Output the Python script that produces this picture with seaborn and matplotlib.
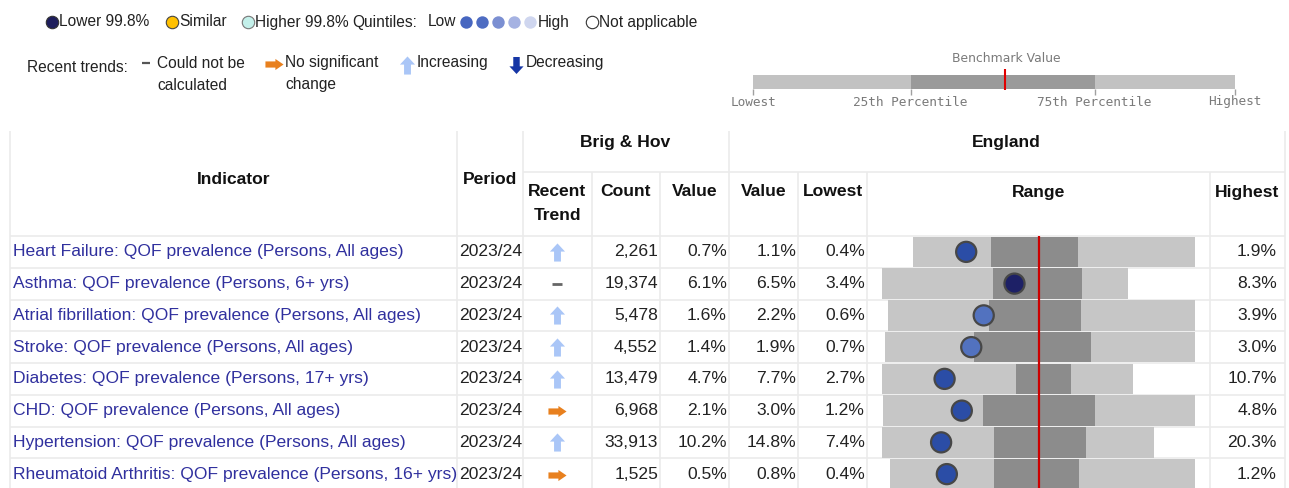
import numpy as np
import pandas as pd
import matplotlib
matplotlib.use("Agg")
import matplotlib.pyplot as plt
from matplotlib.path import Path
from matplotlib.patches import Rectangle
import seaborn as sns

# ---------------- data ----------------
indicators = [
    "Heart Failure: QOF prevalence (Persons, All ages)",
    "Asthma: QOF prevalence (Persons, 6+ yrs)",
    "Atrial fibrillation: QOF prevalence (Persons, All ages)",
    "Stroke: QOF prevalence (Persons, All ages)",
    "Diabetes: QOF prevalence (Persons, 17+ yrs)",
    "CHD: QOF prevalence (Persons, All ages)",
    "Hypertension: QOF prevalence (Persons, All ages)",
    "Rheumatoid Arthritis: QOF prevalence (Persons, 16+ yrs)",
]
periods = ["2023/24", "2023/24", "2023/24", "2023/24", "2023/24", "2023/24", "2023/24", "2023/24"]
trends = ["up", "none", "up", "up", "up", "flat", "up", "flat"]
counts = [2261, 19374, 5478, 4552, 13479, 6968, 33913, 1525]
area_values = [0.72, 6.06, 1.65, 1.36, 4.69, 2.11, 10.18, 0.545]
england_values = [1.10, 6.54, 2.24, 1.86, 7.70, 3.00, 14.80, 0.78]
lowest = [0.44, 3.42, 0.62, 0.72, 2.70, 1.20, 7.40, 0.40]
pct25 = [0.85, 5.63, 1.71, 1.38, 6.97, 2.36, 12.71, 0.667]
pct75 = [1.31, 7.41, 2.70, 2.25, 8.75, 3.65, 17.04, 0.883]
highest = [1.92, 8.32, 3.92, 3.02, 10.74, 4.81, 20.30, 1.18]
comparison = ["Quintile 1", "Lower 99.8%", "Quintile 2", "Quintile 2",
              "Quintile 1", "Quintile 1", "Quintile 1", "Quintile 1"]

# ---------------- style ----------------
W, H = 1289, 488
sns.set_theme(style="white")
plt.rcParams["font.family"] = ["Liberation Sans", "DejaVu Sans"]

FS = 12.6           # table text size (pt)
FS_LEG = 11.2       # legend text size
TXT = "#222222"
IND_COL = "#30309e"
GRID = "#ebebeb"
palette = {"Quintile 1": "#2b4da6", "Quintile 2": "#5272bf", "Lower 99.8%": "#1d2066"}

df = pd.DataFrame({
    "row": np.arange(len(indicators)), "indicator": indicators, "period": periods,
    "trend": trends, "count": counts, "value": area_values, "eng": england_values,
    "lo": lowest, "q25": pct25, "q75": pct75, "hi": highest, "comparison": comparison,
})
half = np.maximum(df.eng - df.lo, df.hi - df.eng)
for c in ["lo", "q25", "q75", "hi", "value"]:
    df[c + "_n"] = (df[c] - df.eng) / half

fig = plt.figure(figsize=(W / 100, H / 100), dpi=100)
ax = fig.add_axes([0, 0, 1, 1])
ax.set_xlim(0, W)
ax.set_ylim(H, 0)
ax.axis("off")

# layout (pixels)
TOP, MID, BODY = 131, 172, 236
ROW_H = 31.75
cols = dict(left=10, period=457, trend=522.7, count=591.7, value=660, eng=728.5,
            low=798, rng=867, high=1210, right=1285)

def row_y(i):
    return BODY + ROW_H * (i + 0.5)

# grid lines
for key in ["left", "period", "trend", "eng", "right"]:
    ax.vlines(cols[key], TOP, H, color=GRID, lw=1.2, zorder=0)
for key in ["count", "value", "low", "rng", "high"]:
    ax.vlines(cols[key], MID, H, color=GRID, lw=1.2, zorder=0)
ax.hlines(MID, cols["trend"], cols["right"], color=GRID, lw=1.2, zorder=0)
for k in range(len(indicators) + 1):
    ax.hlines(BODY + ROW_H * k, cols["left"], cols["right"], color=GRID, lw=1.2, zorder=0)

# headers
hkw = dict(fontsize=FS, fontweight="bold", color="#111111", ha="center", va="center")
ax.text((cols["left"] + cols["period"]) / 2, 180, "Indicator", **hkw)
ax.text((cols["period"] + cols["trend"]) / 2, 180, "Period", **hkw)
ax.text((cols["trend"] + cols["eng"]) / 2, 142, "Brig & Hov", **hkw)
ax.text((cols["eng"] + cols["right"]) / 2, 142, "England", **hkw)
ax.text((cols["trend"] + cols["count"]) / 2, 192, "Recent", **hkw)
ax.text((cols["trend"] + cols["count"]) / 2, 215, "Trend", **hkw)
ax.text((cols["count"] + cols["value"]) / 2, 192, "Count", **hkw)
ax.text((cols["value"] + cols["eng"]) / 2, 192, "Value", **hkw)
ax.text((cols["eng"] + cols["low"]) / 2, 192, "Value", **hkw)
ax.text((cols["low"] + cols["rng"]) / 2, 192, "Lowest", **hkw)
ax.text((cols["rng"] + cols["high"]) / 2, 192, "Range", **hkw)
ax.text((cols["high"] + cols["right"]) / 2, 192, "Highest", **hkw)

# arrow marker paths
up_arrow = Path([(-0.19, -0.5), (0.19, -0.5), (0.19, 0.05), (0.417, 0.05), (0, 0.5),
                 (-0.417, 0.05), (-0.19, 0.05), (-0.19, -0.5)])
down_arrow = Path([(x, -y) for x, y in up_arrow.vertices])
right_arrow = Path([(-0.5, -0.17), (-0.5, 0.17), (0.05, 0.17), (0.05, 0.306), (0.5, 0),
                    (0.05, -0.306), (0.05, -0.17), (-0.5, -0.17)])

tr_x = (cols["trend"] + cols["count"]) / 2
for _, r in df.iterrows():
    y = row_y(r.row)
    ax.text(13, y, r.indicator, fontsize=FS, color=IND_COL, ha="left", va="center")
    ax.text(459, y, r.period, fontsize=FS, color=TXT, ha="left", va="center")
    ax.text(658, y, f"{r['count']:,}", fontsize=FS, color=TXT, ha="right", va="center")
    ax.text(727, y, f"{r.value:.1f}%", fontsize=FS, color=TXT, ha="right", va="center")
    ax.text(796, y, f"{r.eng:.1f}%", fontsize=FS, color=TXT, ha="right", va="center")
    ax.text(865, y, f"{r.lo:.1f}%", fontsize=FS, color=TXT, ha="right", va="center")
    ax.text(1277, y, f"{r.hi:.1f}%", fontsize=FS, color=TXT, ha="right", va="center")
    if r.trend == "up":
        ax.scatter([tr_x], [y], marker=up_arrow, s=170, color="#aac6f7", lw=0, zorder=3)
    elif r.trend == "flat":
        ax.scatter([tr_x], [y + 0.5], marker=right_arrow, s=170, color="#e8801e", lw=0, zorder=3)
    else:
        ax.plot([tr_x], [y], marker="_", ms=7, mew=2.0, color="#666666", zorder=3)

# ---------------- legend (top) ----------------
lkw = dict(fontsize=FS_LEG, color=TXT, va="center", ha="left")
LY = 22
ax.scatter([52], [LY], s=80, color="#1d1d5c", edgecolor="#333333", lw=0.8, zorder=3)
ax.text(59, LY, "Lower 99.8%", **lkw)
ax.scatter([172], [LY], s=80, color="#ffc000", edgecolor="#444444", lw=0.8, zorder=3)
ax.text(179, LY, "Similar", **lkw)
ax.scatter([248], [LY], s=80, color="#c3f0ea", edgecolor="#777777", lw=0.8, zorder=3)
ax.text(255, LY, "Higher 99.8%", **lkw)
ax.text(352, LY, "Quintiles:", **lkw)
ax.text(428, LY, "Low", **lkw)
for xq, cq in zip([466, 482, 498, 514, 530],
                  ["#4766c0", "#4e6cc2", "#7b8fd2", "#a5b2e2", "#cfd6ef"]):
    ax.scatter([xq], [LY], s=80, color=cq, lw=0, zorder=3)
ax.text(538, LY, "High", **lkw)
ax.scatter([592], [LY], s=80, color="white", edgecolor="#333333", lw=0.8, zorder=3)
ax.text(599, LY, "Not applicable", **lkw)

ax.text(27, 67, "Recent trends:", **lkw)
ax.plot([146], [63], marker="_", ms=6, mew=1.6, color="#555555")
ax.text(157, 63, "Could not be", **lkw)
ax.text(157, 85, "calculated", **lkw)
ax.scatter([274], [64], marker=right_arrow, s=170, color="#e8801e", lw=0, zorder=3)
ax.text(285, 63, "No significant", **lkw)
ax.text(285, 85, "change", **lkw)
ax.scatter([407], [65], marker=up_arrow, s=170, color="#aac6f7", lw=0, zorder=3)
ax.text(417, 63, "Increasing", **lkw)
ax.scatter([516], [65], marker=down_arrow, s=150, color="#1636a6", lw=0, zorder=3)
ax.text(526, 63, "Decreasing", **lkw)

# benchmark key
BX0, B25, B75, BX1, BRED = 753, 910.5, 1094.5, 1235, 1004.5
ax.add_patch(Rectangle((BX0, 75), BX1 - BX0, 14, color="#c2c2c2", lw=0))
ax.add_patch(Rectangle((B25, 75), B75 - B25, 14, color="#9a9a9a", lw=0))
ax.vlines(BRED, 69, 90, color="#e00000", lw=1.5)
ax.vlines([BX0, B25, B75, BX1], 89, 95, color="#a0a0a0", lw=1)
mkw = dict(fontsize=9.2, color="#7a7a7a", va="center", ha="center", family="DejaVu Sans Mono")
ax.text(BX0, 102, "Lowest", **mkw)
ax.text(B25, 102, "25th Percentile", **mkw)
ax.text(B75, 102, "75th Percentile", **mkw)
ax.text(BX1, 102, "Highest", **mkw)
ax.text(1006, 58, "Benchmark Value", fontsize=8.9, color="#7a7a7a", va="center",
        ha="center", family="DejaVu Sans")

# ---------------- range (spine) column ----------------
axr = fig.add_axes([cols["rng"] / W, 0, (cols["high"] - cols["rng"]) / W, (H - BODY) / H])
axr.barh(df.row, df.hi_n - df.lo_n, left=df.lo_n, height=0.955, color="#c6c6c6", lw=0, zorder=1)
axr.barh(df.row, df.q75_n - df.q25_n, left=df.q25_n, height=0.955, color="#8c8c8c", lw=0, zorder=2)
axr.axvline(0, color="#cc0000", lw=1.6, zorder=3)
sns.scatterplot(data=df, x="value_n", y="row", hue="comparison", palette=palette, s=210,
                edgecolor="#474747", linewidth=1.6, legend=False, ax=axr, zorder=4)
axr.set_xlim(-171.5 / 156, 171.5 / 156)
axr.set_ylim(-0.5 + (H - BODY) / ROW_H, -0.5)
axr.axis("off")

fig.savefig("out.png", dpi=100)
